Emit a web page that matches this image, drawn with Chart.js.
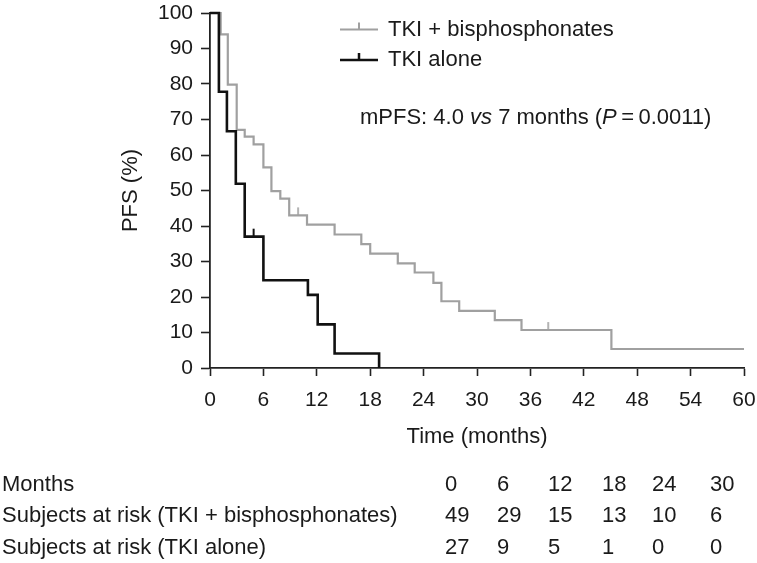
<!DOCTYPE html>
<html>
<head>
<meta charset="utf-8">
<script src="https://cdn.jsdelivr.net/npm/chart.js@4"></script>
<style>
  html, body { margin: 0; padding: 0; background: #fff; }
  #wrap { width: 757px; height: 563px; }
</style>
</head>
<body>
<div id="wrap"><canvas id="km" width="757" height="563"></canvas></div>
<script>
// Kaplan-Meier steps (time in months, PFS in %)
const comboTimes = [0, 1.2, 2.0, 3.0, 3.9, 4.9, 6.0, 6.9, 7.9, 8.9, 10.9, 14.0, 17.0, 18.0, 21.1, 23.0, 25.1, 26.0, 28.0, 32.0, 35.0, 45.1, 60]
const comboPfs = [100, 94.0, 79.8, 67.1, 65.2, 63.0, 56.5, 49.8, 47.7, 43.0, 40.4, 37.6, 34.9, 32.2, 29.5, 26.9, 24.0, 18.8, 16.1, 13.5, 10.7, 5.35, 5.35]
const aloneTimes = [0, 1.0, 1.9, 2.9, 3.9, 6.0, 11.0, 12.1, 14.0, 19.0]
const alonePfs = [100, 77.8, 66.7, 51.9, 37.0, 24.7, 20.6, 12.3, 4.1, 0]

// censored observations
const comboCensorTimes = [9.9, 38.0]
const comboCensorPfs = [43.0, 10.7]
const aloneCensorTimes = [4.9]
const aloneCensorPfs = [37.0]

// numbers at risk table
const riskMonths = [0, 6, 12, 18, 24, 30]
const riskCombo = [49, 29, 15, 13, 10, 6]
const riskAlone = [27, 9, 5, 1, 0, 0]

const GRAY = '#a0a0a0'
const BLACK = '#111'
const TEXT = '#1a1a1a'
const FONT = "'Liberation Sans', Arial, sans-serif"

function pts(xs, ys) {
  return xs.map((x, i) => ({ x: x, y: ys[i] }))
}

// upward tick used to mark a censored subject
function censorMark(color, w) {
  const c = document.createElement('canvas')
  c.width = 6
  c.height = 18
  const g = c.getContext('2d')
  g.strokeStyle = color
  g.lineWidth = w
  g.beginPath()
  g.moveTo(3, 1)
  g.lineTo(3, 9)
  g.stroke()
  return c
}

const extras = {
  id: 'extras',
  afterDraw(chart) {
    const ctx = chart.ctx
    ctx.save()
    ctx.textBaseline = 'middle'
    ctx.textAlign = 'left'
    ctx.font = '22px ' + FONT

    // legend
    const legend = [
      { label: 'TKI + bisphosphonates', color: GRAY, w: 2, y: 29.5 },
      { label: 'TKI alone', color: BLACK, w: 2.5, y: 60 }
    ]
    legend.forEach(item => {
      ctx.strokeStyle = item.color
      ctx.lineWidth = item.w
      ctx.beginPath()
      ctx.moveTo(340, item.y)
      ctx.lineTo(378, item.y)
      ctx.moveTo(359, item.y)
      ctx.lineTo(359, item.y - 7)
      ctx.stroke()
      ctx.fillStyle = TEXT
      ctx.fillText(item.label, 388, item.y)
    })

    // median PFS note
    const parts = [
      ['mPFS: 4.0 ', false], ['vs', true], [' 7 months (', false],
      ['P', true], ['\u2009=\u20090.0011)', false]
    ]
    let x = 360
    parts.forEach(([s, it]) => {
      ctx.font = (it ? 'italic ' : '') + '22px ' + FONT
      ctx.fillText(s, x, 118)
      x += ctx.measureText(s).width
    })

    // at-risk table
    ctx.font = '22px ' + FONT
    const colX = [445, 497, 548, 602, 652, 710]
    const rows = [
      ['Months', riskMonths, 485],
      ['Subjects at risk (TKI + bisphosphonates)', riskCombo, 516],
      ['Subjects at risk (TKI alone)', riskAlone, 548]
    ]
    rows.forEach(([name, vals, y]) => {
      ctx.fillText(name, 2, y)
      vals.forEach((v, i) => ctx.fillText(String(v), colX[i], y))
    })
    ctx.restore()
  }
}

const tickFont = { family: FONT, size: 21 }

new Chart(document.getElementById('km'), {
  type: 'scatter',
  data: {
    datasets: [
      {
        label: 'TKI alone',
        data: pts(aloneTimes, alonePfs),
        showLine: true,
        stepped: 'before',
        borderColor: BLACK,
        borderWidth: 2.6,
        pointRadius: 0,
        clip: false,
        order: 1
      },
      {
        label: 'TKI alone censored',
        data: pts(aloneCensorTimes, aloneCensorPfs),
        showLine: false,
        pointStyle: censorMark(BLACK, 2),
        pointRadius: 5,
        clip: false,
        order: 2
      },
      {
        label: 'TKI + bisphosphonates',
        data: pts(comboTimes, comboPfs),
        showLine: true,
        stepped: 'before',
        borderColor: GRAY,
        borderWidth: 2.2,
        pointRadius: 0,
        clip: false,
        order: 3
      },
      {
        label: 'TKI + bisphosphonates censored',
        data: pts(comboCensorTimes, comboCensorPfs),
        showLine: false,
        pointStyle: censorMark(GRAY, 1.6),
        pointRadius: 5,
        clip: false,
        order: 4
      }
    ]
  },
  options: {
    responsive: false,
    animation: false,
    layout: { padding: { top: 13, right: 13, left: 0, bottom: 0 } },
    plugins: { legend: { display: false }, tooltip: { enabled: false } },
    scales: {
      x: {
        type: 'linear',
        min: 0,
        max: 60,
        ticks: { stepSize: 6, autoSkip: false, maxRotation: 0, font: tickFont, color: TEXT, padding: 12 },
        grid: { drawOnChartArea: false, tickLength: 8, tickColor: '#222', tickWidth: 1.6 },
        border: { color: '#222', width: 1.8 },
        title: { display: true, text: 'Time (months)', color: TEXT, font: { family: FONT, size: 22 }, padding: { top: 0, bottom: 113 } },
        afterFit(s) {
          s.height = 195
          s.paddingLeft = 0
          s.paddingRight = 0
        }
      },
      y: {
        min: 0,
        max: 100,
        ticks: { stepSize: 10, font: tickFont, color: TEXT, padding: 8 },
        grid: { drawOnChartArea: false, tickLength: 9, tickColor: '#222', tickWidth: 1.6 },
        border: { color: '#222', width: 1.8 },
        title: { display: true, text: 'PFS (%)', color: TEXT, font: { family: FONT, size: 22 }, padding: { top: 118, bottom: 0 } },
        afterFit(s) {
          s.width = 210
          s.paddingTop = 0
          s.paddingBottom = 0
        }
      }
    }
  },
  plugins: [extras]
})
</script>
</body>
</html>
